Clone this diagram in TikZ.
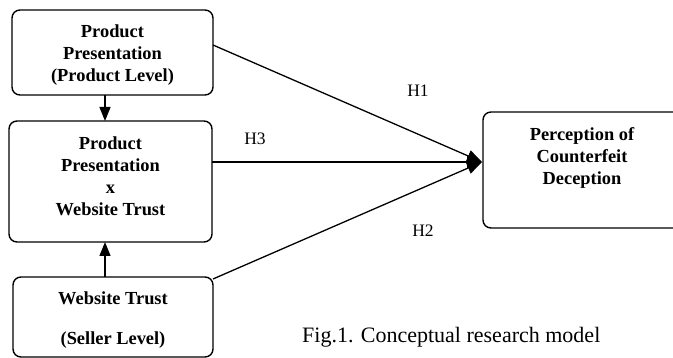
\documentclass[tikz,border=0pt]{standalone}
\usepackage{fontspec}
\setmainfont{Liberation Serif}
\usetikzlibrary{arrows.meta}
\begin{document}
\begin{tikzpicture}[x=1pt,y=-1pt,
  box/.style={draw,line width=1.4pt,rounded corners=8pt,inner sep=0pt,outer sep=0pt},
  lbl/.style={font=\bfseries\fontsize{18.4}{22}\selectfont,align=center,inner sep=0pt},
  hyp/.style={font=\fontsize{17.5}{20}\selectfont,inner sep=0pt},
  arr/.style={line width=1.3pt,-{Triangle[length=15pt,width=12pt]}},
  varr/.style={line width=1.3pt,-{Triangle[length=14pt,width=11pt]}}]
\useasboundingbox (0,0) rectangle (673,358);
\clip (0,0) rectangle (673,358);
% boxes
\node[box,minimum width=201pt,minimum height=85pt] (b1) at (112.5,52.5) {};
\node[lbl] (t1) at (112.5,55) {Product\\Presentation\\(Product Level)};
\node[box,minimum width=203pt,minimum height=121pt] (b2) at (110.5,181.5) {};
\node[lbl] (t2) at (110.5,176.5) {Product\\Presentation\\x\\Website Trust};
\node[box,minimum width=200pt,minimum height=80pt] (b3) at (113,317) {};
\node[lbl] (t3) at (113,320) {Website Trust\\[18pt](Seller Level)};
\node[box,minimum width=207pt,minimum height=116pt] (b4) at (586.5,170) {};
\node[lbl] (t4) at (582,158) {Perception of\\Counterfeit\\Deception};
% connectors
\coordinate (tip) at (482,162);
\coordinate (s1) at (213,45);
\coordinate (s3) at (213,279);
\draw[arr] (s1) -- (tip);
\draw[arr] (b2.east |- tip) -- (tip);
\draw[arr] (s3) -- (tip);
\draw[varr] (b1.south -| 105,0) -- (b2.north -| 105,0);
\draw[varr] (b3.north -| 105,0) -- (b2.south -| 105,0);
% labels
\node[hyp] (h1) at (418,91) {H1};
\node[hyp] (h3) at (255,139) {H3};
\node[hyp] (h2) at (423,231) {H2};
\node[font=\fontsize{22}{26}\selectfont,anchor=base west,inner sep=0pt] (cap) at (302,343) {Fig.1. Conceptual research model};
\end{tikzpicture}
\end{document}
